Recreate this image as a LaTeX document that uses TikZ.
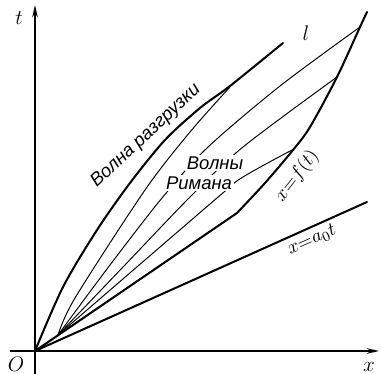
\documentclass[tikz,border=0pt]{standalone}
\usepackage{fontspec}
\newfontfamily\draftfont{Liberation Sans}
\usepackage{tikz}
\usetikzlibrary{
  arrows.meta,
  positioning,
}

\begin{document}
\begin{tikzpicture}[
  x=0.02cm, y=-0.02cm,
  font=\fontsize{11}{13}\selectfont,
  axis/.style={line width=0.75pt, -{Stealth[length=7pt,width=3.2pt]}},
  bold/.style={line width=1.15pt, line cap=round, line join=round},
  charline/.style={line width=0.55pt, line cap=round},
  rus/.style={font=\draftfont\itshape\fontsize{10.5}{12}\selectfont, inner sep=1pt},
  mlabel/.style={inner sep=1pt},
]
  \useasboundingbox (0,0) rectangle (381,374);

  % Points of the x-t plane
  \coordinate (O)  at (35,351);   % origin
  \coordinate (C)  at (58,335);   % centre of the fan
  \coordinate (K)  at (237,213);  % kink of the piston path
  \coordinate (A)  at (367,202);  % end of x = a_0 t

  % Axes
  \coordinate (xl) at (10,351);
  \coordinate (xr) at (379,351);
  \coordinate (tb) at (35,374);
  \coordinate (tt) at (35,5);
  \draw[axis] (xl) -- (xr);
  \draw[axis] (tb) -- (tt);

  % Characteristics of the fan (Riemann waves)
  \draw[charline] plot[smooth] coordinates {(58,335) (75,298) (145,190) (190,132) (230,87)};
  \draw[charline] plot[smooth] coordinates {(58,335) (110,265) (162,198) (207,148) (280,86) (360,27)};
  \draw[charline] plot[smooth] coordinates {(58,335) (124,266) (190,197) (243,147) (337,77)};
  \draw[charline] plot[smooth] coordinates {(58,335) (217,198) (243,177) (292,150)};
  \draw[charline] (C) -- (K);

  % Unloading wave front
  \draw[bold] plot[smooth] coordinates {(35,351) (63,287) (97,230) (130,183) (165,140) (200,108) (230,86) (283,43)};

  % Piston path x = f(t)
  \draw[bold] (O) -- (K) -- plot[smooth] coordinates {(237,213) (265,183) (293,150) (310,127) (337,77) (360,27) (367,12)};

  % Line x = a_0 t
  \draw[bold] (O) -- (A);

  % Labels
  \node[mlabel, font=\fontsize{13}{15}\selectfont] (tlab) at (19,18) {$t$};
  \node[mlabel, font=\fontsize{13}{15}\selectfont] (xlab) at (369,367) {$x$};
  \node[mlabel, font=\fontsize{12}{14}\selectfont] (olab) at (16,364) {$O$};
  \node[mlabel, font=\fontsize{13}{15}\selectfont] (llab) at (306,33) {$l$};
  \node[mlabel, rotate=24] (alab) at (312,240) {$x{=}a_0t$};
  \node[mlabel, rotate=52] (flab) at (297,176) {$x{=}f(t)$};
  \node[rus, rotate=43] (front) at (146,136) {Волна разгрузки};
  \node[rus, fill=white] (riem1) at (215,163) {Волны};
  \node[rus, fill=white] (riem2) at (199,183) {Римана};
\end{tikzpicture}
\end{document}
